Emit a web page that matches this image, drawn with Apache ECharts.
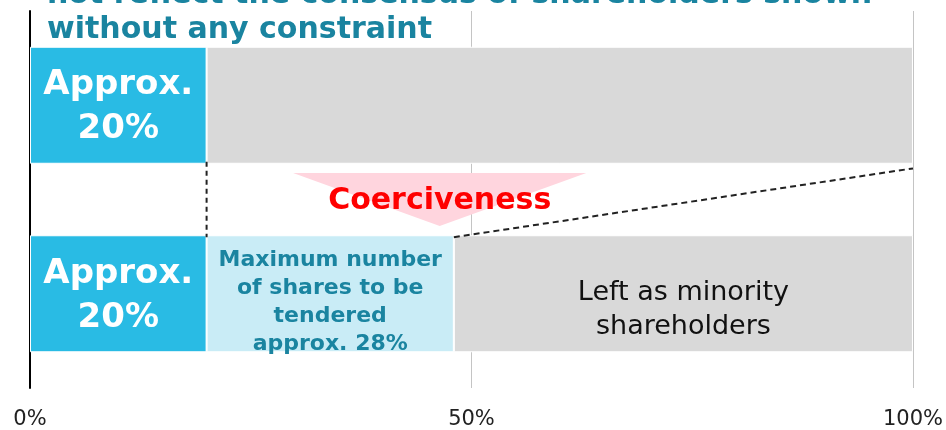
<!DOCTYPE html>
<html>
<head>
<meta charset="utf-8">
<script src="https://cdn.jsdelivr.net/npm/echarts@6/dist/echarts.min.js"></script>
<style>
  html, body { margin: 0; padding: 0; background: #fff; }
  #chart { width: 946px; height: 430px; }
</style>
</head>
<body>
<div id="chart"></div>
<script>
// rows (top to bottom)
const categories = ['Before', 'After']
// share of shareholders (%)
const baseShares = [20, 20]
const tenderedShares = ['-', 28]
const remainingShares = [80, 52]
const xTicks = [0, 50, 100]

const titleLines = ['not reflect the consensus of shareholders shown', 'without any constraint']

// annotation geometry in data units: x = %, y = row index (0 = top row)
const arrowPts = [[29.8, 0.36], [63, 0.36], [46.4, 0.64]]
const arrowText = { x: 46.4, y: 0.5, text: 'Coerciveness' }
const dashVertical = [[20, 0.3], [20, 0.7]]
const dashDiagonal = [[48, 0.7], [100, 0.335]]

const FONT = 'DejaVu Sans'
const chart = echarts.init(document.getElementById('chart'))

const option = {
  backgroundColor: '#fff',
  animation: false,
  graphic: [
    {
      type: 'text',
      left: 47,
      top: -22,
      style: {
        text: titleLines.join('\n'),
        font: 'bold 30px "' + FONT + '"',
        lineHeight: 35,
        fill: '#1a84a0'
      }
    }
  ],
  grid: { left: 30, right: 31, top: 11, bottom: 40 },
  xAxis: {
    type: 'value',
    min: xTicks[0],
    max: xTicks[xTicks.length - 1],
    interval: 50,
    axisLine: { show: false },
    axisTick: { show: false },
    splitLine: { lineStyle: { color: '#c4c4c4', width: 1 } },
    axisLabel: {
      formatter: '{value}%',
      color: '#222',
      fontFamily: FONT,
      fontSize: 21,
      margin: 21
    }
  },
  yAxis: [
    {
      type: 'category',
      data: categories,
      inverse: true,
      axisLine: { lineStyle: { color: '#000', width: 2 } },
      axisTick: { show: false },
      axisLabel: { show: false }
    },
    {
      type: 'value',
      min: -0.5,
      max: 1.5,
      inverse: true,
      show: false
    }
  ],
  series: [
    {
      name: 'base',
      type: 'bar',
      stack: 'total',
      barWidth: 117,
      data: baseShares,
      itemStyle: { color: '#29bbe4', borderColor: '#fff', borderWidth: 1 },
      label: {
        show: true,
        position: 'inside',
        formatter: 'Approx.\n20%',
        color: '#fff',
        fontFamily: FONT,
        fontWeight: 'bold',
        fontSize: 34,
        lineHeight: 44,
        offset: [0, 2]
      }
    },
    {
      name: 'tendered',
      type: 'bar',
      stack: 'total',
      data: tenderedShares,
      itemStyle: { color: '#c9ecf6', borderColor: '#fff', borderWidth: 1 },
      label: {
        show: true,
        position: 'inside',
        formatter: 'Maximum number\nof shares to be\ntendered\napprox. 28%',
        color: '#1a84a0',
        fontFamily: FONT,
        fontWeight: 'bold',
        fontSize: 22,
        lineHeight: 28,
        offset: [0, 9]
      }
    },
    {
      name: 'remaining',
      type: 'bar',
      stack: 'total',
      data: remainingShares.map((v, i) => ({
        value: v,
        label: { show: i === 1 }
      })),
      itemStyle: { color: '#d9d9d9', borderColor: '#fff', borderWidth: 1 },
      label: {
        position: 'inside',
        formatter: 'Left as minority\nshareholders',
        color: '#111',
        fontFamily: FONT,
        fontSize: 27,
        lineHeight: 34,
        offset: [0, 16]
      }
    },
    {
      name: 'arrow',
      type: 'custom',
      yAxisIndex: 1,
      silent: true,
      z: 5,
      data: [0],
      renderItem: (params, api) => {
        const pts = arrowPts.map(p => api.coord(p))
        const c = api.coord([arrowText.x, arrowText.y])
        return {
          type: 'group',
          children: [
            { type: 'polygon', shape: { points: pts }, style: { fill: '#ffd5de' } },
            {
              type: 'text',
              x: c[0],
              y: c[1] + 2,
              style: {
                text: arrowText.text,
                font: 'bold 30px "' + FONT + '"',
                fill: '#ff0000',
                align: 'center',
                verticalAlign: 'middle'
              }
            }
          ]
        }
      }
    },
    {
      name: 'dash1',
      type: 'line',
      yAxisIndex: 1,
      silent: true,
      symbol: 'none',
      z: 4,
      data: dashVertical,
      lineStyle: { color: '#222', width: 2, type: [5, 4] }
    },
    {
      name: 'dash2',
      type: 'line',
      yAxisIndex: 1,
      silent: true,
      symbol: 'none',
      z: 4,
      data: dashDiagonal,
      lineStyle: { color: '#222', width: 2, type: [6, 4] }
    }
  ]
}

chart.setOption(option)
</script>
</body>
</html>
